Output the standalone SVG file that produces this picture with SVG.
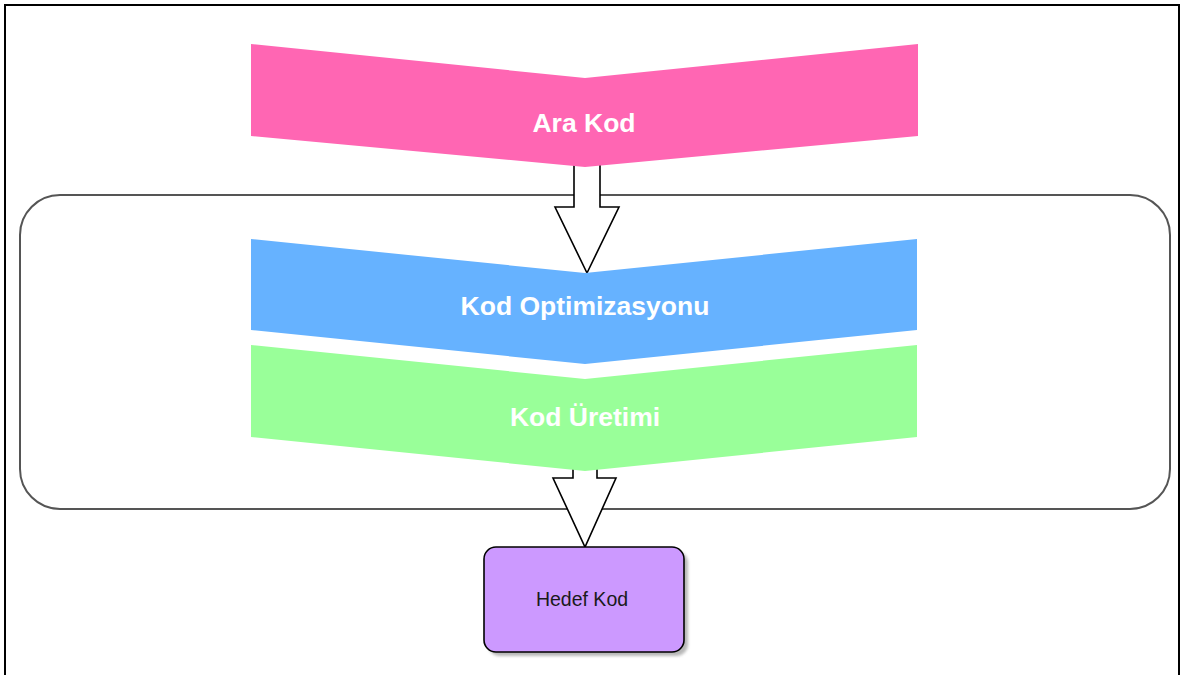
<svg xmlns="http://www.w3.org/2000/svg" width="1187" height="675" viewBox="0 0 1187 675">
  <style>
    .chev-label { font-family: "Liberation Sans", Arial, sans-serif; font-weight: bold; font-size: 26.5px; fill: #ffffff; text-anchor: middle; }
    .box-label { font-family: "Liberation Sans", Arial, sans-serif; font-size: 19.5px; fill: #1a1a1a; text-anchor: middle; }
    .block-arrow { fill: #ffffff; stroke: #000000; stroke-width: 1.6; stroke-linejoin: miter; }
  </style>
  <defs>
    <filter id="softShadow" x="-10%" y="-10%" width="130%" height="130%">
      <feGaussianBlur stdDeviation="1.5"/>
    </filter>
  </defs>

  <rect width="1187" height="675" fill="#ffffff"/>
  <!-- page frame -->
  <rect x="5" y="5" width="1174" height="690" fill="none" stroke="#000000" stroke-width="2"/>

  <!-- back-end stage container -->
  <g id="backend-group">
    <rect x="20" y="195" width="1150" height="314" rx="40" ry="40" fill="none" stroke="#555555" stroke-width="2"/>
  </g>

  <!-- connectors -->
  <g id="connectors">
    <polygon class="block-arrow" points="574,162 600,162 600,207 619,207 587,273 555,207 574,207"/>
    <polygon class="block-arrow" points="573,462 597,462 597,478 616,478 585,547 553,478 573,478"/>
  </g>

  <g id="ara-kod">
    <polygon points="251,44 585,78 918,44 918,136 585,167 251,136" fill="#FF66B3"/>
    <text class="chev-label" x="584" y="132">Ara Kod</text>
  </g>

  <g id="kod-optimizasyonu">
    <polygon points="251,239 585,273 917,239 917,330 585,364 251,330" fill="#66B2FF"/>
    <text class="chev-label" x="585" y="315">Kod Optimizasyonu</text>
  </g>

  <g id="kod-uretimi">
    <polygon points="251,345 585,379 917,345 917,437 585,471 251,437" fill="#99FF99"/>
    <text class="chev-label" x="585" y="426">Kod Üretimi</text>
  </g>

  <g id="hedef-kod">
    <rect x="488" y="551" width="200" height="105" rx="12" ry="12" fill="#888888" opacity="0.6" filter="url(#softShadow)"/>
    <rect x="484" y="547" width="200" height="105" rx="12" ry="12" fill="#CC99FF" stroke="#000000" stroke-width="1.6"/>
    <text class="box-label" x="582" y="606">Hedef Kod</text>
  </g>
</svg>
